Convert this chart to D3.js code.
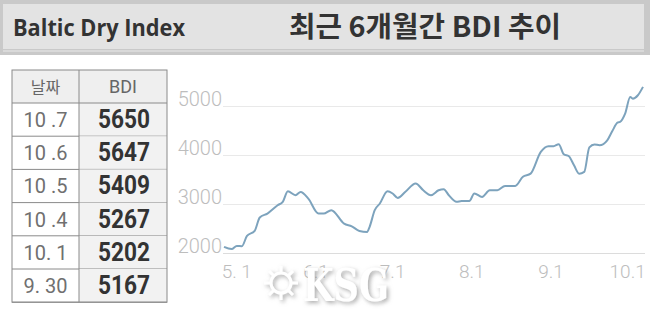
<!DOCTYPE html>
<html>
<head>
<meta charset="utf-8">
<script src="https://cdn.jsdelivr.net/npm/d3@7"></script>
<style>
  body { margin: 0; background: #fff; }
  svg { display: block; }
</style>
</head>
<body>
<svg width="650" height="313"></svg>
<script>
// ---- data ----
var tableDates = ['10 .7', '10 .6', '10 .5', '10 .4', '10. 1', '9. 30'];
var tableValues = [5650, 5647, 5409, 5267, 5202, 5167];

var lineDates = [
  '2021-04-26', '2021-04-29', '2021-05-01', '2021-05-03', '2021-05-05', '2021-05-08',
  '2021-05-10', '2021-05-13', '2021-05-17', '2021-05-19', '2021-05-21', '2021-05-24',
  '2021-05-26', '2021-05-29', '2021-06-02', '2021-06-04', '2021-06-07', '2021-06-12',
  '2021-06-15', '2021-06-18', '2021-06-21', '2021-06-22', '2021-06-24', '2021-06-26',
  '2021-06-29', '2021-07-01', '2021-07-03', '2021-07-06', '2021-07-10', '2021-07-13',
  '2021-07-16', '2021-07-19', '2021-07-21', '2021-07-23', '2021-07-26', '2021-07-28',
  '2021-07-31', '2021-08-02', '2021-08-05', '2021-08-08', '2021-08-11', '2021-08-14',
  '2021-08-18', '2021-08-21', '2021-08-24', '2021-08-28', '2021-08-31', '2021-09-02',
  '2021-09-04', '2021-09-06', '2021-09-08', '2021-09-10', '2021-09-12', '2021-09-14',
  '2021-09-16', '2021-09-18', '2021-09-20', '2021-09-23', '2021-09-25', '2021-09-27',
  '2021-09-28', '2021-09-30', '2021-10-02', '2021-10-03', '2021-10-05', '2021-10-07'
];
var lineValues = [
  2135, 2090, 2155, 2150, 2360, 2460,
  2735, 2815, 2985, 3055, 3270, 3190,
  3255, 3120, 2815, 2815, 2885, 2610,
  2555, 2460, 2440, 2545, 2885, 3020,
  3270, 3225, 3135, 3260, 3430, 3290,
  3190, 3290, 3310, 3190, 3055, 3070,
  3070, 3225, 3155, 3290, 3290, 3380,
  3380, 3565, 3630, 4075, 4190, 4190,
  4230, 4025, 3985, 3800, 3630, 3665,
  4165, 4225, 4210, 4310, 4500, 4670,
  4685, 4855, 5195, 5160, 5230, 5400
];
var yTicks = [2000, 3000, 4000, 5000];
var xTicks = ['2021-05-01', '2021-06-01', '2021-07-01', '2021-08-01', '2021-09-01', '2021-10-01'];
var xTickLabels = ['5. 1', '6.1', '7.1', '8.1', '9.1', '10.1'];

var parse = d3.timeParse('%Y-%m-%d');
var svg = d3.select('svg');

// ---- header band ----
svg.append('rect').attr('x', 0).attr('y', 0).attr('width', 650).attr('height', 55)
  .attr('fill', '#c9c9c9');
svg.append('rect').attr('x', 3).attr('y', 4).attr('width', 641).attr('height', 45)
  .attr('fill', '#e3e3e3');
svg.append('line').attr('x1', 3).attr('x2', 644).attr('y1', 51).attr('y2', 51)
  .attr('stroke', '#dedede').attr('stroke-width', 1.5);
svg.append('text').attr('x', 13).attr('y', 36)
  .attr('font-family', 'Open Sans').attr('font-weight', 'bold').attr('font-size', 24)
  .attr('fill', '#333')
  .attr('textLength', 172).attr('lengthAdjust', 'spacingAndGlyphs')
  .text('Baltic Dry Index');
svg.append('text').attr('x', 289).attr('y', 37)
  .attr('font-family', 'Noto Sans CJK KR').attr('font-weight', 'bold').attr('font-size', 28)
  .attr('fill', '#333')
  .attr('textLength', 272).attr('lengthAdjust', 'spacingAndGlyphs')
  .text('최근 6개월간 BDI 추이');

// ---- table ----
var tableX = 12, col1 = 79, tableRight = 167, headTop = 70, headH = 33, rowH = 33.2;
var tbl = svg.append('g');
tbl.append('rect').attr('x', tableX).attr('y', headTop).attr('width', tableRight - tableX)
  .attr('height', headH).attr('fill', '#efefef');
var rows = tbl.selectAll('g.row').data(tableDates).join('g')
  .attr('class', 'row')
  .attr('transform', function (d, i) { return 'translate(0,' + (headTop + headH + i * rowH) + ')'; });
rows.append('rect').attr('x', col1).attr('y', 0).attr('width', tableRight - col1)
  .attr('height', rowH).attr('fill', '#f2f2f2');
rows.append('line').attr('x1', tableX).attr('x2', tableRight).attr('y1', rowH).attr('y2', rowH)
  .attr('stroke', '#8a8a8a').attr('stroke-width', 1);
rows.append('text').attr('x', (tableX + col1) / 2).attr('y', 24)
  .attr('text-anchor', 'middle').attr('font-family', 'Roboto').attr('font-size', 20)
  .attr('fill', '#707070').text(function (d) { return d; });
rows.append('text').attr('x', (col1 + tableRight) / 2 + 1).attr('y', 25)
  .attr('text-anchor', 'middle').attr('font-family', 'Roboto').attr('font-weight', 'bold')
  .attr('font-size', 25).attr('fill', '#333')
  .attr('textLength', 52).attr('lengthAdjust', 'spacingAndGlyphs')
  .text(function (d, i) { return tableValues[i]; });
var tableBottom = headTop + headH + tableDates.length * rowH;
tbl.append('rect').attr('x', tableX).attr('y', headTop).attr('width', tableRight - tableX)
  .attr('height', tableBottom - headTop).attr('fill', 'none').attr('stroke', '#8a8a8a');
tbl.append('line').attr('x1', tableX).attr('x2', tableRight)
  .attr('y1', headTop + headH).attr('y2', headTop + headH).attr('stroke', '#8a8a8a');
tbl.append('line').attr('x1', col1).attr('x2', col1).attr('y1', headTop).attr('y2', tableBottom)
  .attr('stroke', '#8a8a8a');
tbl.append('text').attr('x', (tableX + col1) / 2).attr('y', headTop + 23)
  .attr('text-anchor', 'middle').attr('font-family', 'Noto Sans CJK KR').attr('font-size', 16)
  .attr('fill', '#666').text('날짜');
tbl.append('text').attr('x', (col1 + tableRight) / 2).attr('y', headTop + 23)
  .attr('text-anchor', 'middle').attr('font-family', 'Roboto').attr('font-size', 18)
  .attr('fill', '#666').text('BDI');

// ---- line chart ----
var x = d3.scaleTime()
  .domain([parse('2021-04-26'), parse('2021-10-07')])
  .range([224, 643]);
var y = d3.scaleLinear().domain([2000, 5000]).range([253.5, 106.5]);

var chart = svg.append('g');
chart.selectAll('line.grid').data(yTicks).join('line')
  .attr('class', 'grid')
  .attr('x1', 223).attr('x2', 645)
  .attr('y1', function (d) { return y(d); }).attr('y2', function (d) { return y(d); })
  .attr('stroke', function (d) { return d === 2000 ? '#dcdcdc' : '#e9e9e9'; })
  .attr('stroke-width', 1);
chart.selectAll('text.ylab').data(yTicks).join('text')
  .attr('class', 'ylab')
  .attr('x', 222).attr('y', function (d) { return y(d) - 1; })
  .attr('text-anchor', 'end').attr('font-family', 'Roboto').attr('font-weight', 300)
  .attr('font-size', 20).attr('fill', '#bdbdbd')
  .text(function (d) { return d; });
chart.selectAll('text.xlab').data(xTicks).join('text')
  .attr('class', 'xlab')
  .attr('x', function (d) { return x(parse(d)); }).attr('y', 278)
  .attr('text-anchor', 'middle').attr('font-family', 'Roboto').attr('font-weight', 300)
  .attr('font-size', 19).attr('fill', '#bdbdbd')
  .text(function (d, i) { return xTickLabels[i]; });

var points = lineDates.map(function (d, i) { return [parse(d), lineValues[i]]; });
chart.append('path')
  .datum(points)
  .attr('fill', 'none')
  .attr('stroke', '#7da3bd')
  .attr('stroke-width', 2)
  .attr('stroke-linejoin', 'round')
  .attr('d', d3.line()
    .x(function (d) { return x(d[0]); })
    .y(function (d) { return y(d[1]); })
    .curve(d3.curveMonotoneX));

// ---- watermark ----
var defs = svg.append('defs');
var f = defs.append('filter').attr('id', 'shadow').attr('x', '-20%').attr('y', '-20%')
  .attr('width', '140%').attr('height', '140%');
f.append('feDropShadow').attr('dx', 2).attr('dy', 2).attr('stdDeviation', 2)
  .attr('flood-color', '#888').attr('flood-opacity', 0.7);
var wm = svg.append('g').attr('filter', 'url(#shadow)');
wm.append('circle').attr('cx', 281).attr('cy', 283).attr('r', 10)
  .attr('fill', 'none').attr('stroke', '#fff').attr('stroke-width', 3);
wm.selectAll('line.spoke').data(d3.range(8)).join('line')
  .attr('class', 'spoke')
  .attr('x1', function (d) { return 281 + 10 * Math.cos(d * Math.PI / 4); })
  .attr('y1', function (d) { return 283 + 10 * Math.sin(d * Math.PI / 4); })
  .attr('x2', function (d) { return 281 + 17 * Math.cos(d * Math.PI / 4); })
  .attr('y2', function (d) { return 283 + 17 * Math.sin(d * Math.PI / 4); })
  .attr('stroke', '#fff').attr('stroke-width', 3);
wm.append('text').attr('x', 303).attr('y', 301)
  .attr('font-family', 'DejaVu Serif').attr('font-weight', 'bold').attr('font-size', 44)
  .attr('fill', '#fff')
  .attr('textLength', 86).attr('lengthAdjust', 'spacingAndGlyphs')
  .text('KSG');
</script>
</body>
</html>
